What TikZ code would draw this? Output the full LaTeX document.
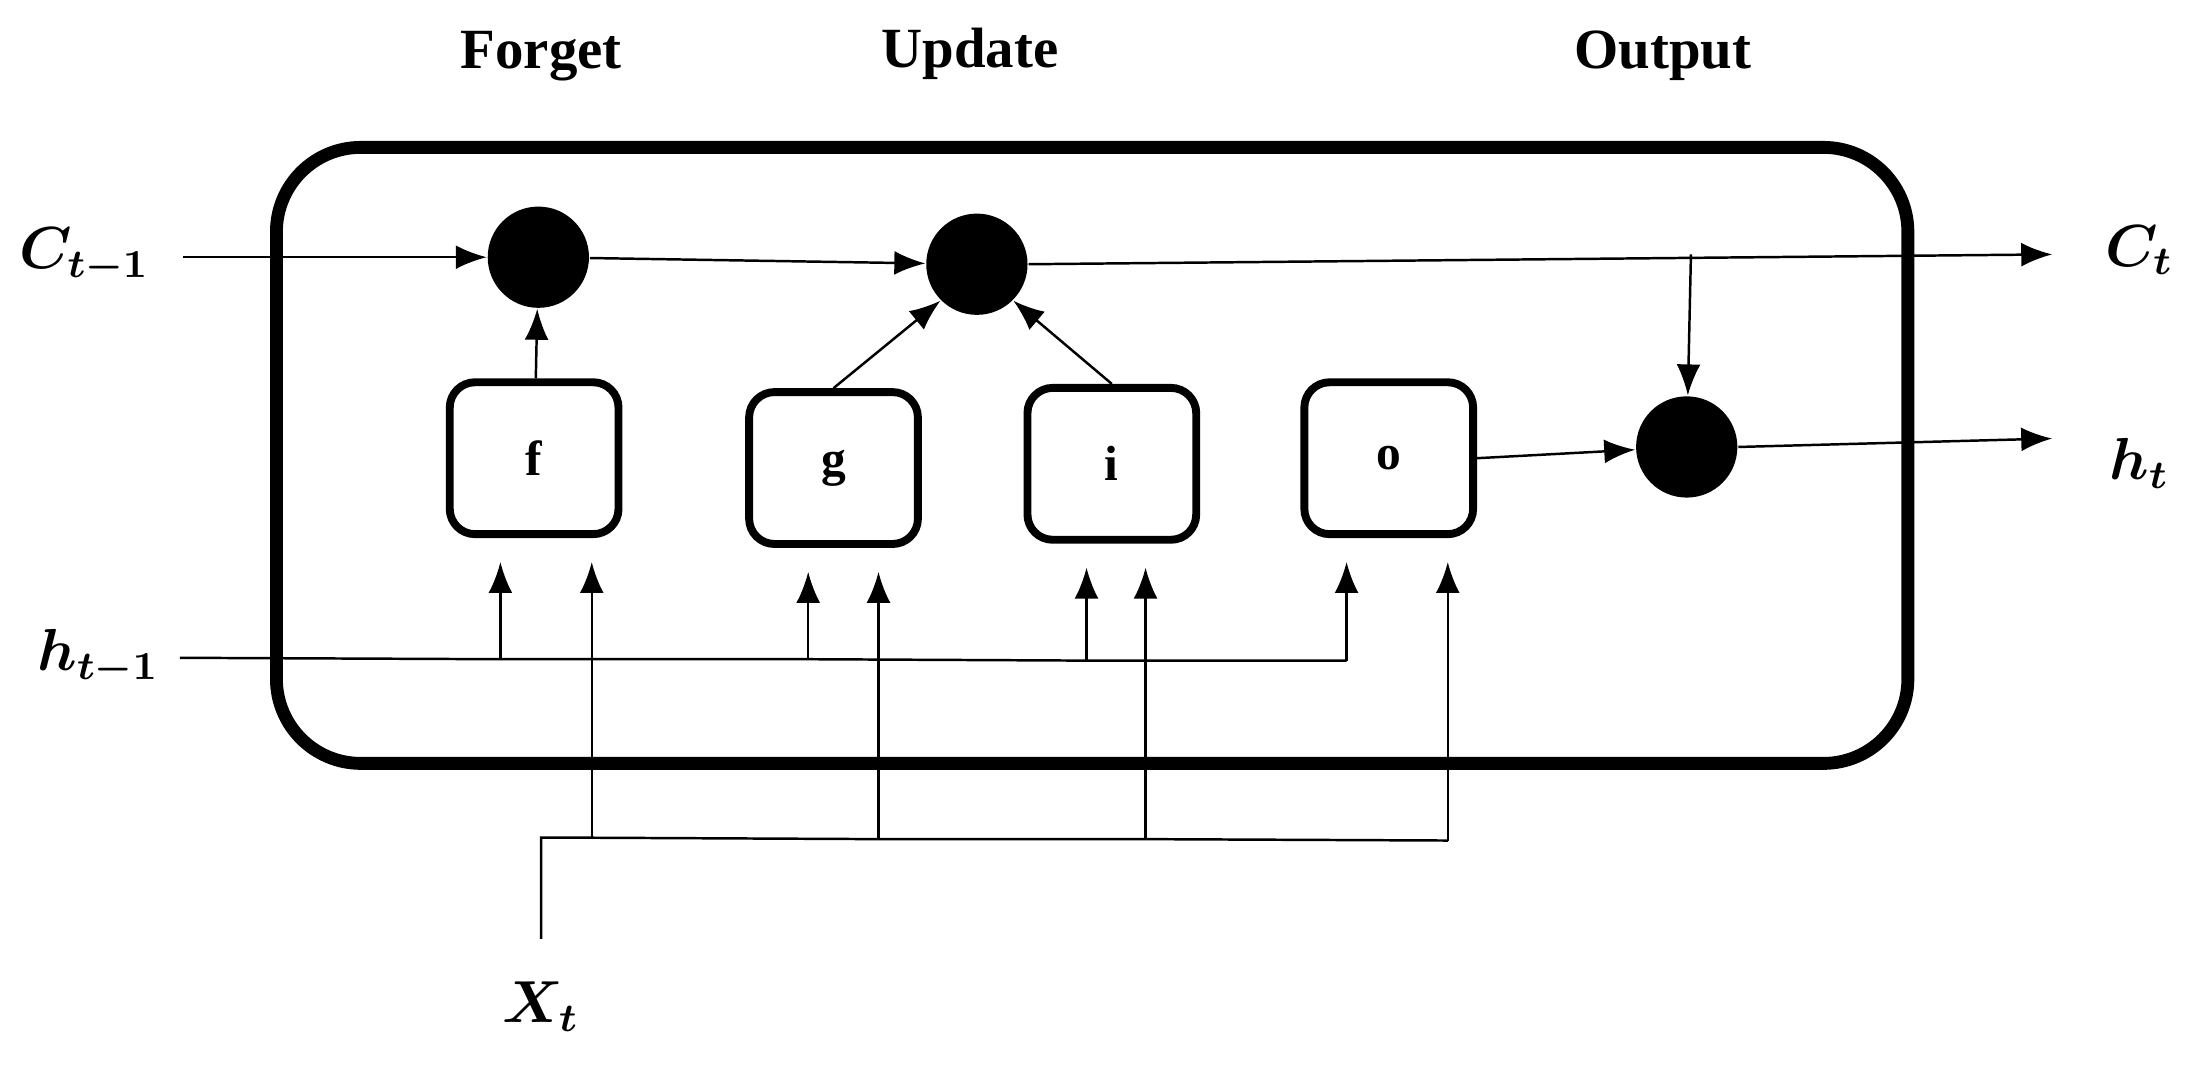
\documentclass[tikz,border=0pt]{standalone}
\usepackage{fontspec}
\usepackage{bm}
\setmainfont{Liberation Serif}
\usetikzlibrary{arrows.meta}
\tikzset{
  gate/.style={draw, line width=1.6pt, rounded corners=0.18cm,
    minimum width=1.2cm, minimum height=1.08cm, font=\bfseries\fontsize{10}{12}\selectfont},
  op/.style={circle, fill=black, minimum size=0.72cm, inner sep=0},
  arr/.style={-{Latex[length=2.2mm,width=1.7mm]}, line width=0.5pt},
  ln/.style={line width=0.5pt},
  lbl/.style={font=\fontsize{12}{14}\selectfont},
  head/.style={font=\bfseries\fontsize{11.5}{14}\selectfont}
}
\begin{document}
\begin{tikzpicture}[x=0.01cm, y=0.01cm]
    \useasboundingbox (0,0) rectangle (1568,758);

    % Cell frame
    \node[draw, line width=2.6pt, rounded corners=0.6cm,
      minimum width=11.6cm, minimum height=4.38cm] (cell) at (777,434) {};

    % Headings
    \node[head] (hforget) at (385,718) {Forget};
    \node[head] (hupdate) at (690,720) {Update};
    \node[head] (houtput) at (1183,718) {Output};

    % Pointwise operations
    \node[op] (mf) at (383,575) {};
    \node[op] (mu) at (695,570) {};
    \node[op] (mo) at (1200,440) {};

    % Gates
    \node[gate] (f) at (380,432) {f};
    \node[gate] (g) at (593,425) {g};
    \node[gate] (i) at (791,428) {i};
    \node[gate] (o) at (988,432) {o};

    % Outer labels
    \node[lbl] (cin)  at (60,576)  {$\bm{C_{t-1}}$};
    \node[lbl] (cout) at (1522,580) {$\bm{C_t}$};
    \node[lbl] (hin)  at (70,290)  {$\bm{h_{t-1}}$};
    \node[lbl] (hout) at (1522,428) {$\bm{h_t}$};
    \node[lbl] (xin)  at (385,42)  {$\bm{X_t}$};

    % Helper points
    \coordinate (cs) at (130,575);
    \coordinate (ce) at (1460,577);
    \coordinate (cb) at (1203,577);
    \coordinate (he) at (1460,446);
    \coordinate (hs) at (128,290);
    \coordinate (hf) at (356,289);
    \coordinate (hg) at (575,289);
    \coordinate (hi) at (773,288);
    \coordinate (ho) at (958,288);
    \coordinate (xs) at (385,90);
    \coordinate (xc) at (385,162);
    \coordinate (xf) at (421,162);
    \coordinate (xg) at (625,161);
    \coordinate (xi) at (815,161);
    \coordinate (xo) at (1030,160);

    % Cell state path
    \draw[arr] (cs) -- (mf);
    \draw[arr] (mf) -- (mu);
    \draw[arr] (mu.east) -- (ce);
    \draw[arr] (cb) -- (mo);
    \draw[arr] (f) -- (mf);
    \draw[arr] (g.north) -- (mu.south west);
    \draw[arr] (i.north) -- (mu.south east);
    \draw[arr] (o.east) -- (mo);
    \draw[arr] (mo.east) -- (he);

    % Hidden state inputs
    \draw[ln] (hs) -- (hf) -- (hg) -- (hi) -- (ho);
    \foreach \p/\b in {hf/f, hg/g, hi/i, ho/o}
      \draw[arr, shorten >=0.17cm] (\p) -- (\p |- \b.south);

    % Input x
    \draw[ln] (xs) -- (xc) -- (xf) -- (xg) -- (xi) -- (xo);
    \foreach \p/\b in {xf/f, xg/g, xi/i, xo/o}
      \draw[arr, shorten >=0.17cm] (\p) -- (\p |- \b.south);
  \end{tikzpicture}
\end{document}
